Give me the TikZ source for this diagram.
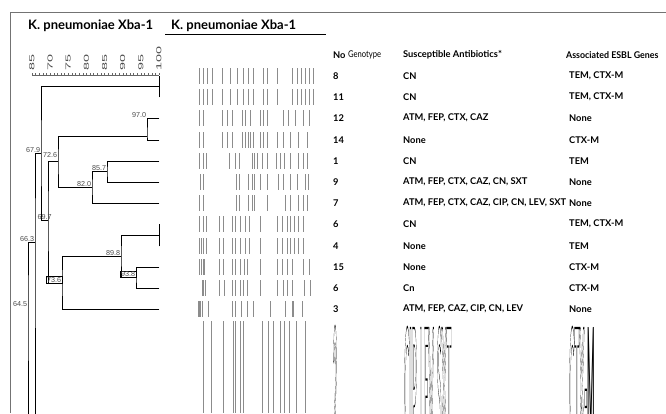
\documentclass[tikz,border=0pt]{standalone}
\usepackage{fontspec}
\setmainfont{Lato}
\newfontfamily\simfont{Liberation Sans}
\usetikzlibrary{positioning}
\newcommand{\hollow}[1]{\special{pdf:code 1 Tr 0.12 w}#1\special{pdf:code 0 Tr}}

\begin{document}
\begin{tikzpicture}[x=1pt,y=-1pt]
  \tikzstyle{branch}=[line width=0.85pt, black, line cap=rect]
  \tikzstyle{band}=[line width=0.7pt, black!45]
  \tikzstyle{cell}=[anchor=west, inner sep=0pt, font=\bfseries\fontsize{9.3}{11}\selectfont]
  \tikzstyle{sim}=[inner sep=0.6pt, text=black!70, font=\simfont\fontsize{7.2}{8}\selectfont]
  \tikzstyle{simbox}=[sim, draw=black, line width=0.5pt]
  \tikzstyle{title}=[anchor=base west, inner sep=0pt, font=\bfseries\fontsize{13}{15}\selectfont]
  \tikzstyle{smear}=[anchor=north west, inner sep=0pt, yscale=18, font=\bfseries\fontsize{9.3}{11}\selectfont]
  \useasboundingbox (0,0) rectangle (666,413);
  % frame and titles
  \draw[black!55, line width=0.8pt] (10,413) -- (10,12) -- (666,12);
  \node[title] (t1) at (28,29) {K. pneumoniae Xba-1};
  \node[title] (t2) at (171,29) {K. pneumoniae Xba-1};
  \draw[line width=0.8pt] (165,34) -- (326,34);
  % similarity scale
  \draw[black!60, line width=0.4pt] (32,75) -- (159,75);
  \foreach \s in {65,...,100}
    \draw[black!60, line width=0.4pt] ({159-(100-\s)*3.63},75) -- ++(0,-2);
  \foreach \s/\t in {65/85,70/70,75/75,80/80,85/85,90/90,95/95,100/100}
    \node[sim, rotate=90, xscale=2, anchor=west] (sc\s) at ({159-(100-\s)*3.63},72) {\t};
  % leaves
  \foreach \i/\y in {1/76,2/97,3/118,4/140,5/161,6/182,7/203,8/224,9/246,10/267,11/288,12/309}
    \coordinate (l\i) at (159,\y);
  \coordinate (p1) at (159,86.5);
  \coordinate (n970) at (147,136);
  \coordinate (n857) at (107,171.5);
  \coordinate (n820) at (92,187);
  \coordinate (n726) at (58,161.5);
  \coordinate (p2) at (159,235);
  \coordinate (n938) at (136,277.5);
  \coordinate (n898) at (121,256);
  \coordinate (n736) at (62,283);
  \coordinate (n697) at (48,220);
  \coordinate (n679) at (41,153);
  \coordinate (n663) at (35,242);
  \coordinate (n645) at (28,307);
  \coordinate (e663) at (35,416);
  \coordinate (e645) at (28,416);
  % dendrogram
  \draw[branch] (l1) -- (l2);
  \draw[branch] (l3) -| (n970) |- (l4);
  \draw[branch] (l5) -| (n857) |- (l6);
  \draw[branch] (n857) -| (n820) |- (l7);
  \draw[branch] (n970) -| (n726) |- (n820);
  \draw[branch] (l8) -- (l9);
  \draw[branch] (l10) -| (n938) |- (l11);
  \draw[branch] (p2) -| (n898) |- (n938);
  \draw[branch] (n898) -| (n736) |- (l12);
  \draw[branch] (n726) -| (n697) |- (n736);
  \draw[branch] (p1) -| (n679) |- (n697);
  \draw[branch] (n679) -| (n663) -- (e663);
  \draw[branch] (n663) -| (n645) -- (e645);
  \node[sim, anchor=south east] (s970) at (n970 |- l3) {97.0};
  \node[sim, anchor=south east] (s857) at (n857) {85.7};
  \node[sim, anchor=south east] (s820) at (n820) {82.0};
  \node[sim, anchor=south east, yshift=3pt] (s726) at (n726) {72.6};
  \node[sim, anchor=south east] (s679) at (n679) {67.9};
  \node[sim, anchor=south east, xshift=4.5pt] (s697) at (n697) {69.7};
  \node[sim, anchor=south east] (s663) at (n663) {66.3};
  \node[sim, anchor=south east] (s645) at (n645) {64.5};
  \node[sim, anchor=south east] (s898) at (n898) {89.8};
  \node[simbox, anchor=south east] (s938) at (n938) {93.8};
  \node[simbox, anchor=south east] (s736) at (n736) {73.6};
  % gel lanes
  \foreach \y/\bands in {
      76/{199,203,207,212,222,230,237,243,248,253,263,267,277,292,297,301,305,309,313},
      97/{199,203,207,212,222,230,237,243,248,253,263,267,277,292,297,301,305,309,313},
      118/{199,203,222,227,232,242,245,250,260,263,267,283,288,295,303,309},
      140/{199,203,222,227,232,242,245,248,250,253,260,263,267,277,283,290,298,307},
      161/{199,203,206,229,235,239,252,254,257,262,267,276,280,284,290,298,303,307},
      182/{200,203,236,239,248,252,254,260,267,278,283,290,297,305,308},
      203/{199,203,236,239,248,252,254,267,285,290,298,303,307},
      224/{199,203,206,219,223,232,235,240,245,249,260,277,282,287,290,294,298,303},
      246/{199,201,203,206,219,223,232,235,240,245,249,260,277,282,287,290,294,298,303},
      267/{199,201,203,204,219,223,232,235,240,244,247,260,277,282,287,292,303,309},
      288/{202,203,205,219,224,232,235,240,243,247,260,277,283,287,292,304,310},
      309/{198,199,200,202,208,232,235,241,247,253,270,285,292,293,302}}
    \foreach \bx in \bands
      \draw[band] (\bx,\y-8) -- (\bx,\y+8);
  \foreach \bx in {203,211,223,233,235,240,243,262,268,273,280,284,289,296,305}
    \draw[band] (\bx,321) -- (\bx,413);
  % table
  \node[cell] (hno) at (333,55) {No};
  \node[cell, xscale=0.82, font=\fontsize{9.3}{11}\selectfont] (hgt) at (348,55) {Genotype};
  \node[cell] (hab) at (403,55) {Susceptible Antibiotics*};
  \node[cell, xscale=0.95] (hgn) at (566,55) {Associated ESBL Genes};
  \foreach \i/\no/\ab/\gn in {1/8/CN/{TEM, CTX-M}, 2/11/CN/{TEM, CTX-M},
      3/12/{ATM, FEP, CTX, CAZ}/None, 4/14/None/CTX-M, 5/1/CN/TEM,
      6/9/{ATM, FEP, CTX, CAZ, CN, SXT}/None,
      7/7/{ATM, FEP, CTX, CAZ, CIP, CN, LEV, SXT}/None,
      8/6/CN/{TEM, CTX-M}, 9/4/None/TEM, 10/15/None/CTX-M, 11/6/Cn/CTX-M,
      12/3/{ATM, FEP, CAZ, CIP, CN, LEV}/None} {
    \node[cell] (no\i) at (333,0 |- l\i) {\no};
    \node[cell] (ab\i) at (403,0 |- l\i) {\ab};
    \node[cell] (gn\i) at (569,0 |- l\i) {\gn};
  }
  % smeared last row
  \node[smear, xscale=0.7] (no13) at (333,322) {\hollow{2}};
  \node[smear, xscale=0.85] (ab13) at (404,323) {\hollow{CIP, LEV, SXT}};
  \node[smear, xscale=0.85] (gn13) at (569,323) {\hollow{CTX-}M};
\end{tikzpicture}
\end{document}
